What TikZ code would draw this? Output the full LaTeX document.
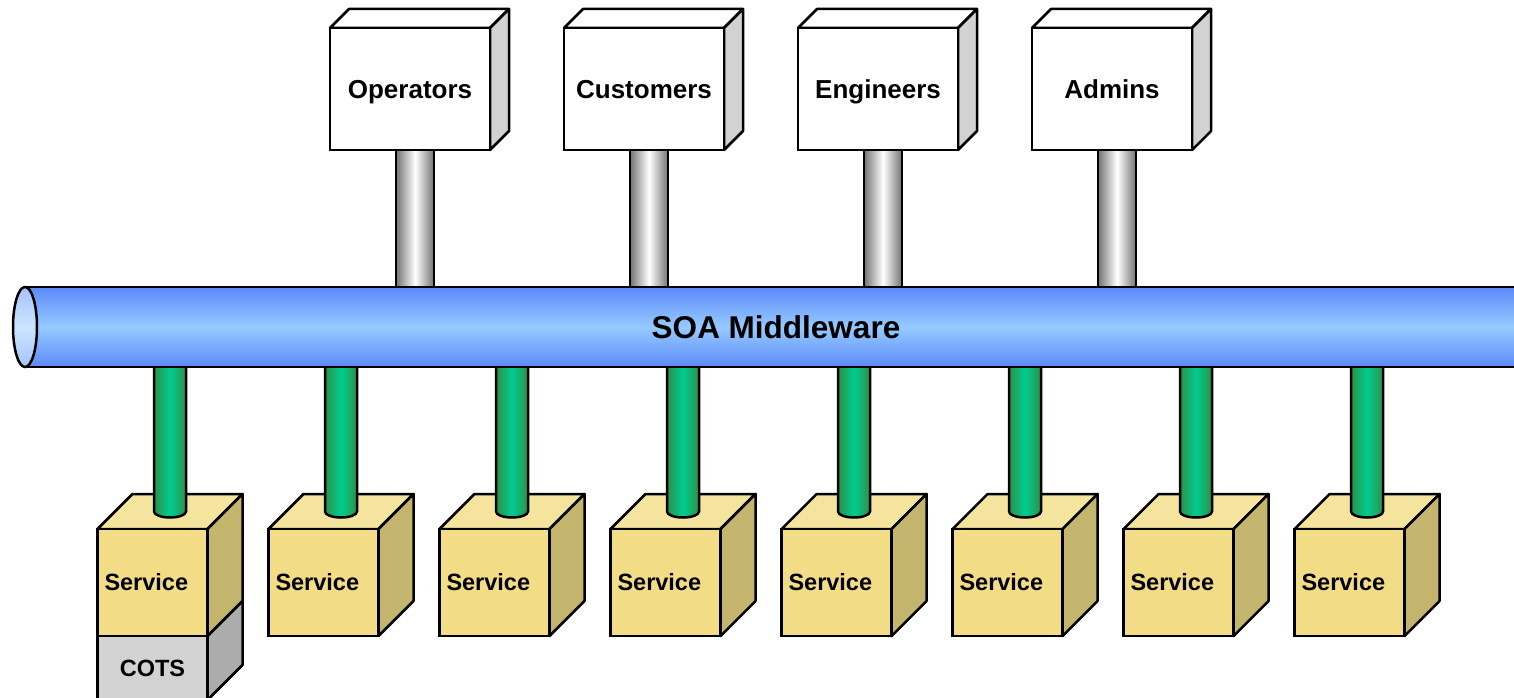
\documentclass[tikz,border=0pt]{standalone}
\usepackage{fontspec}
\setmainfont{Liberation Sans}
\usepackage{xcolor}
\usetikzlibrary{positioning, calc, backgrounds}
\definecolor{mwblue}{RGB}{92, 138, 250}
\definecolor{mwlight}{RGB}{150, 202, 255}
\definecolor{capblue}{RGB}{165, 195, 250}
\definecolor{caplight}{RGB}{205, 228, 255}
\definecolor{pipegreen}{RGB}{0, 204, 145}
\definecolor{pipedark}{RGB}{45, 145, 70}
\definecolor{pipegray}{RGB}{115, 115, 115}
\definecolor{svcfront}{RGB}{242, 220, 133}
\definecolor{svctop}{RGB}{245, 228, 158}
\definecolor{svcside}{RGB}{196, 181, 110}
\definecolor{cotsfront}{RGB}{210, 210, 210}
\definecolor{cotsside}{RGB}{172, 172, 172}
\definecolor{userside}{RGB}{210, 210, 210}

\begin{document}
\begin{tikzpicture}[
	x=1pt, y=1pt,
	% 3D faces drawn after the front face: depth, top colour, side colour
	cube/.style n args={3}{
			append after command={\pgfextra{
						\filldraw[fill=#2, line width=2.5pt, line join=round]
						(\tikzlastnode.north west) -- ([shift={(#1,#1)}]\tikzlastnode.north west)
						-- ([shift={(#1,#1)}]\tikzlastnode.north east) -- (\tikzlastnode.north east) -- cycle;
						\filldraw[fill=#3, line width=2.5pt, line join=round]
						(\tikzlastnode.north east) -- ([shift={(#1,#1)}]\tikzlastnode.north east)
						-- ([shift={(#1,#1)}]\tikzlastnode.south east) -- (\tikzlastnode.south east) -- cycle;
					}}
		},
	userbox/.style={
			rectangle,
			minimum width=160pt,
			minimum height=122pt,
			text height=23pt,
			text depth=4pt,
			outer sep=0pt,
			fill=white,
			draw=black,
			line width=2.5pt,
			font=\fontsize{26pt}{30pt}\selectfont\bfseries,
			cube={19}{white}{userside}
		},
	servicebox/.style={
			rectangle,
			minimum width=110pt,
			minimum height=107pt,
			text width=96pt,
			align=left,
			inner xsep=7pt,
			outer sep=0pt,
			fill=svcfront,
			draw=black,
			line width=2.5pt,
			font=\fontsize{23.5pt}{27pt}\selectfont\bfseries,
			cube={35}{svctop}{svcside}
		},
	cotsbox/.style={
			rectangle,
			minimum width=110pt,
			minimum height=64pt,
			outer sep=0pt,
			fill=cotsfront,
			draw=black,
			line width=2.5pt,
			font=\fontsize{23.5pt}{27pt}\selectfont\bfseries,
			cube={35}{cotsfront}{cotsside}
		},
	middleware/.style={
			rectangle,
			minimum width=1502pt,
			minimum height=80pt,
			outer sep=0pt,
			top color=mwblue,
			bottom color=mwblue,
			middle color=mwlight,
			draw=black,
			line width=2.5pt,
			font=\fontsize{31.5pt}{36pt}\selectfont\bfseries
		},
	greypipe/.style={
			left color=pipegray,
			right color=pipegray,
			middle color=white,
			draw=black,
			line width=2.5pt
		},
	greenpipe/.style={
			left color=pipedark,
			right color=pipedark,
			middle color=pipegreen,
			draw=black,
			line width=2.5pt
		}
	]

	\useasboundingbox (0, 0) rectangle (1514, -698);
	\clip (0, 0) rectangle (1514, -698);

	% User boxes along the top
	\node[userbox] (operators) at (410, -89) {Operators};
	\node[userbox, right=74pt of operators] (customers) {Customers};
	\node[userbox, right=74pt of customers] (engineers) {Engineers};
	\node[userbox, right=74pt of engineers] (admins) {Admins};

	% Middleware tube with its front end
	\node[middleware] (mw) at (776, -327) {SOA Middleware};
	\shade[top color=capblue, bottom color=capblue, middle color=caplight, draw=black, line width=2.5pt]
	(mw.west) ellipse [x radius=12, y radius=40];

	\begin{scope}[on background layer]
		% Service row, COTS under the first one
		\node[cotsbox] (cots) at (152.5, -668) {COTS};
		\node[servicebox, above=0pt of cots] (s1) {Service};
		\node[servicebox, right=61pt of s1] (s2) {Service};
		\node[servicebox, right=61pt of s2] (s3) {Service};
		\node[servicebox, right=61pt of s3] (s4) {Service};
		\node[servicebox, right=61pt of s4] (s5) {Service};
		\node[servicebox, right=61pt of s5] (s6) {Service};
		\node[servicebox, right=61pt of s6] (s7) {Service};
		\node[servicebox, right=61pt of s7] (s8) {Service};

		% Green pipes from the tube down to each service
		\foreach \i in {1,...,8}{
				\path ([shift={(17.5,17.5)}]s\i.north) coordinate (p\i);
				\shade[greenpipe] ($(p\i |- mw.center)+(-16,0)$) -- ($(p\i)+(-16,0)$)
				arc[start angle=180, end angle=360, x radius=16, y radius=6]
				-- ($(p\i |- mw.center)+(16,0)$);
			}

		% Grey pipes from the users down to the tube
		\foreach \u in {operators, customers, engineers, admins}{
				\shade[greypipe] ($(\u.center)+(-14,0)$) rectangle ($(\u.center |- mw.center)+(24,0)$);
			}
	\end{scope}

\end{tikzpicture}
\end{document}
